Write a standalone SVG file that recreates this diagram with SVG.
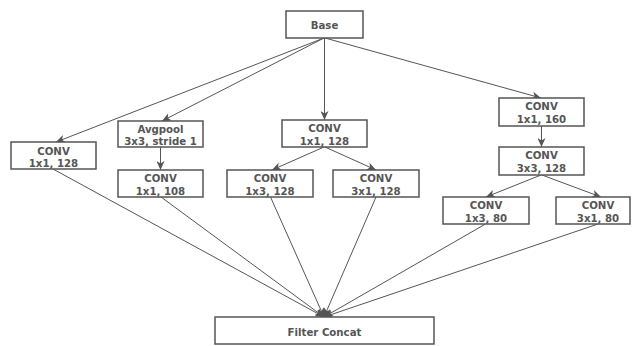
<svg xmlns="http://www.w3.org/2000/svg" width="633" height="346" viewBox="0 0 633 346">
<defs>
<style>
.box{fill:#fff;stroke:#555;stroke-width:1.5}
.t{font-family:"DejaVu Sans",Verdana,sans-serif;font-weight:bold;font-size:10.2px;fill:#555;text-anchor:middle}
.e{stroke:#555;stroke-width:1;fill:none;marker-end:url(#ah)}
</style>
<marker id="ah" markerUnits="userSpaceOnUse" markerWidth="10" markerHeight="8" refX="9" refY="4" orient="auto">
<path d="M0,0 L9,4 L0,8 L2.5,4 z" fill="#555"/>
</marker>
</defs>
<rect width="633" height="346" fill="#fff"/>
<g id="connectors">
<line class="e" x1="324" y1="38" x2="56" y2="142"/>
<line class="e" x1="324" y1="38" x2="162" y2="121"/>
<line class="e" x1="324.5" y1="38" x2="324.5" y2="120"/>
<line class="e" x1="325" y1="38" x2="541" y2="98"/>
<line class="e" x1="160.5" y1="147" x2="160.5" y2="170"/>
<line class="e" x1="324" y1="147" x2="272" y2="170"/>
<line class="e" x1="325" y1="147" x2="376" y2="170"/>
<line class="e" x1="541.5" y1="126" x2="541.5" y2="147"/>
<line class="e" x1="541" y1="175" x2="486" y2="197"/>
<line class="e" x1="542" y1="175" x2="601" y2="197"/>
<line class="e" x1="53" y1="169" x2="324" y2="317"/>
<line class="e" x1="161" y1="197" x2="324" y2="317"/>
<line class="e" x1="270.5" y1="197" x2="324" y2="317"/>
<line class="e" x1="376" y1="197" x2="324" y2="317"/>
<line class="e" x1="485.5" y1="224" x2="324" y2="317"/>
<line class="e" x1="598" y1="224" x2="324" y2="317"/>
</g>
<g id="base"><rect class="box" x="286" y="11" width="77" height="27"/><text class="t" x="324.5" y="29">Base</text></g>
<g id="conv_left"><rect class="box" x="11" y="142" width="85" height="27"/><text class="t" x="53.5" y="154.5">CONV</text><text class="t" x="53.5" y="167">1x1, 128</text></g>
<g id="avgpool"><rect class="box" x="118" y="121" width="85" height="26"/><text class="t" x="160.5" y="132.5">Avgpool</text><text class="t" x="160.5" y="145">3x3, stride 1</text></g>
<g id="conv_108"><rect class="box" x="118" y="170" width="85" height="27"/><text class="t" x="160.5" y="182">CONV</text><text class="t" x="160.5" y="194.5">1x1, 108</text></g>
<g id="conv_mid"><rect class="box" x="282" y="120" width="85" height="27"/><text class="t" x="324.5" y="132">CONV</text><text class="t" x="324.5" y="144.5">1x1, 128</text></g>
<g id="conv_1x3_128"><rect class="box" x="227" y="170" width="86" height="27"/><text class="t" x="270" y="182">CONV</text><text class="t" x="270" y="194.5">1x3, 128</text></g>
<g id="conv_3x1_128"><rect class="box" x="333" y="170" width="86" height="27"/><text class="t" x="376" y="182">CONV</text><text class="t" x="376" y="194.5">3x1, 128</text></g>
<g id="conv_160"><rect class="box" x="499" y="98" width="85" height="28"/><text class="t" x="541.5" y="110">CONV</text><text class="t" x="541.5" y="122.5">1x1, 160</text></g>
<g id="conv_3x3_128"><rect class="box" x="499" y="147" width="85" height="28"/><text class="t" x="541.5" y="159">CONV</text><text class="t" x="541.5" y="171.5">3x3, 128</text></g>
<g id="conv_1x3_80"><rect class="box" x="443" y="197" width="86" height="27"/><text class="t" x="486" y="209">CONV</text><text class="t" x="486" y="221.5">1x3, 80</text></g>
<g id="conv_3x1_80"><rect class="box" x="556" y="197" width="74" height="27"/><text class="t" x="598" y="209">CONV</text><text class="t" x="598" y="221.5">3x1, 80</text></g>
<g id="filter_concat"><rect class="box" x="215" y="317" width="219" height="27"/><text class="t" x="324.5" y="336">Filter Concat</text></g>
</svg>
